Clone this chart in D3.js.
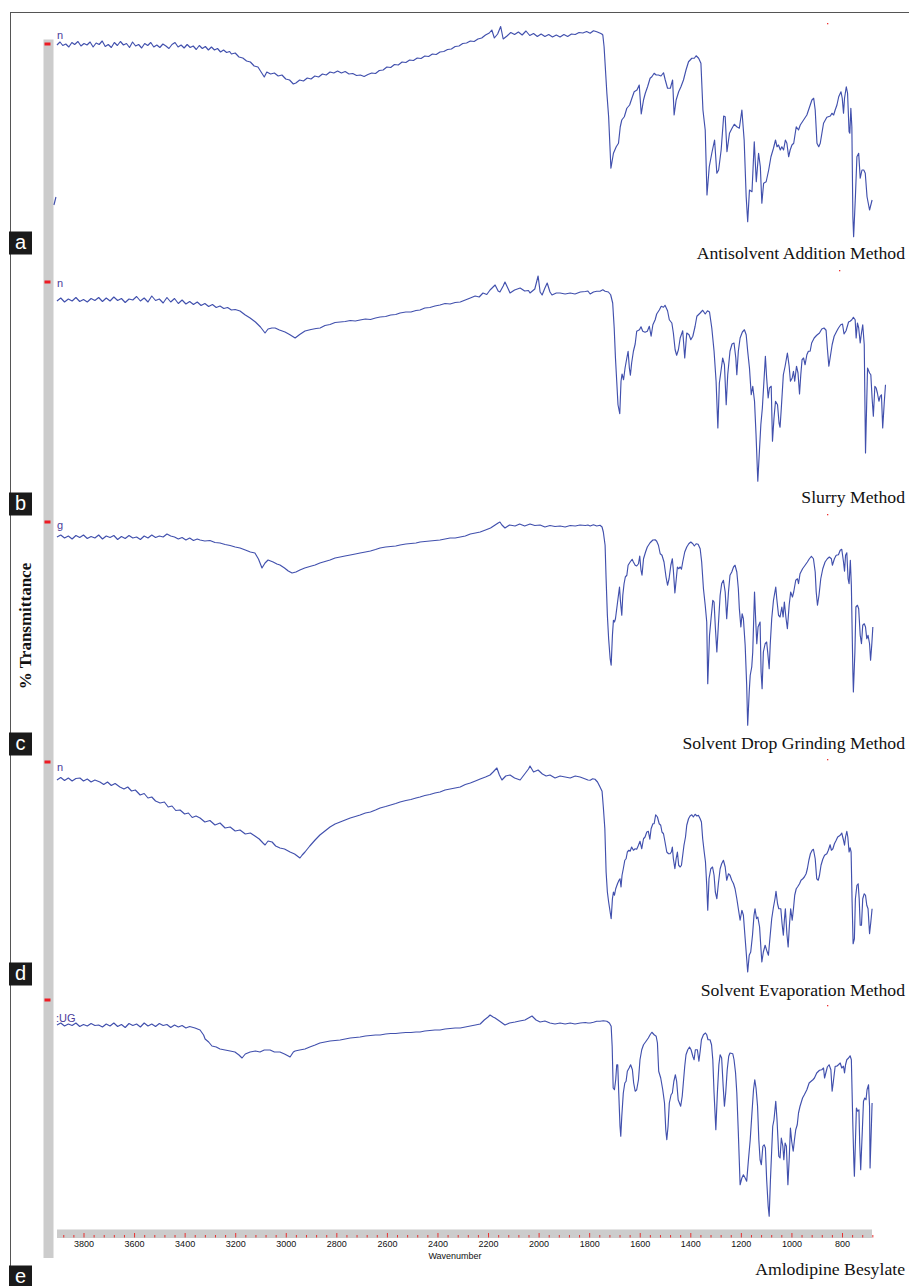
<!DOCTYPE html>
<html>
<head>
<meta charset="utf-8">
<script src="https://cdn.jsdelivr.net/npm/d3@7"></script>
<style>
  html, body { margin: 0; padding: 0; background: #ffffff; }
  svg { display: block; }
</style>
</head>
<body>
<svg id="chart" width="909" height="1286"></svg>
<script>
// FTIR spectra: [wavenumber (cm-1), % transmittance]

const spectrumAntisolvent = [
  [3905,91.6],[3893,92.8],[3882,91.4],[3870,92.0],[3858,90.8],[3846,92.6],[3835,91.8],[3822,93.0],[3810,91.2],[3798,92.2],
  [3786,91.6],[3774,92.8],[3762,90.8],[3750,92.4],[3738,91.8],[3726,93.2],[3714,91.0],[3702,91.8],[3690,90.6],[3678,92.6],
  [3666,91.4],[3654,93.0],[3642,91.6],[3630,92.2],[3618,90.6],[3606,92.8],[3594,91.2],[3582,91.8],[3570,90.4],[3558,92.2],
  [3546,91.4],[3534,92.6],[3522,90.8],[3510,91.6],[3498,90.6],[3486,92.0],[3474,91.2],[3462,90.2],[3450,91.8],[3438,92.6],
  [3426,90.8],[3414,91.6],[3402,90.4],[3390,91.8],[3378,90.6],[3366,91.2],[3354,89.8],[3342,91.4],[3330,90.2],[3318,91.0],
  [3306,89.6],[3294,90.8],[3282,89.6],[3270,90.2],[3258,88.8],[3246,89.6],[3234,88.6],[3222,89.0],
  [3215,88.0],[3200,88.4],[3185,86.8],[3170,86.4],
  [3155,85.2],[3140,84.8],[3125,83.2],[3110,82.8],[3095,80.4],[3085,78.8],[3075,80.8],[3060,80.0],[3045,80.4],[3030,79.2],
  [3015,79.6],[3000,78.0],[2985,77.6],[2970,76.0],[2960,76.4],[2945,77.6],[2930,77.2],[2915,78.4],[2900,78.0],[2885,79.2],
  [2870,78.8],[2855,80.0],[2840,79.6],[2825,80.8],[2810,80.4],[2795,81.2],[2780,80.4],[2765,81.0],[2750,80.0],[2735,80.2],
  [2720,79.4],[2705,79.6],[2690,79.0],[2675,79.8],[2660,80.4],[2645,80.2],[2630,81.4],[2615,81.6],[2600,82.8],[2585,82.6],
  [2570,83.8],[2555,83.6],[2540,84.8],[2525,84.6],[2510,85.6],[2495,85.4],[2480,86.4],[2465,86.2],[2450,87.2],[2435,87.0],
  [2420,88.0],[2405,87.8],[2390,88.8],[2375,89.0],[2360,89.8],[2345,90.0],[2330,91.0],[2315,91.2],[2300,92.2],[2285,92.4],
  [2270,93.2],[2255,93.0],[2240,94.0],[2225,94.4],[2210,95.6],[2195,96.4],[2185,97.6],[2175,94.4],[2162,96.0],[2150,99.0],
  [2140,94.0],[2125,95.2],[2110,96.6],[2095,95.8],[2080,96.8],[2065,95.6],[2050,97.2],[2035,95.4],[2020,96.2],[2005,95.0],
  [1990,96.0],[1975,95.0],[1960,95.8],[1945,94.8],[1930,95.6],[1915,94.8],[1900,95.8],[1885,95.0],[1870,96.0],[1855,95.8],
  [1840,96.6],[1825,96.4],[1810,97.0],
  [1796,96.3],[1783,97.3],[1770,96.9],[1756,96.3],[1750,96.0],[1746,95.6],[1741,90.9],[1730,72.3],[1723,62.9],[1714,42.3],
  [1704,48.3],[1693,50.9],[1684,52.3],[1677,58.9],[1671,61.6],[1661,62.9],[1651,66.3],[1640,67.6],[1631,70.3],[1622,72.9],
  [1611,73.6],[1602,75.6],[1594,64.0],[1585,69.6],[1578,72.3],[1569,74.9],[1559,78.3],[1552,78.9],[1543,80.3],[1535,79.6],
  [1526,79.6],[1516,79.2],[1506,80.5],[1499,77.6],[1490,74.3],[1479,74.3],[1470,77.6],[1464,63.6],[1456,69.6],[1446,72.9],
  [1437,74.9],[1427,77.6],[1417,81.6],[1407,84.9],[1394,86.3],[1384,86.3],[1377,87.3],[1367,86.3],[1358,84.3],[1350,65.6],
  [1341,57.6],[1334,31.6],[1325,42.9],[1315,48.3],[1304,53.6],[1295,40.3],[1288,41.6],[1278,49.6],[1268,63.2],[1262,62.9],
  [1255,48.9],[1245,56.3],[1235,58.3],[1226,59.9],[1216,58.9],[1206,58.3],[1196,65.6],[1187,53.6],[1179,30.9],[1173,20.9],
  [1166,33.6],[1156,32.9],[1147,52.9],[1139,36.9],[1130,48.3],[1123,42.9],[1117,28.3],[1110,36.3],[1100,36.9],[1090,41.6],
  [1081,46.9],[1071,50.3],[1063,53.6],[1057,50.9],[1051,51.6],[1044,49.6],[1038,50.9],[1031,49.6],[1024,53.6],[1018,52.3],
  [1011,46.9],[1005,49.6],[998,51.6],[991,52.3],[981,58.9],[972,57.6],[965,59.6],[952,61.6],[939,63.6],[928,66.9],
  [919,69.6],[912,70.3],[906,65.6],[899,52.3],[892,50.9],[886,52.3],[873,60.3],[860,62.7],[846,63.2],[840,64.3],
  [833,63.6],[827,65.6],[820,67.6],[813,70.9],[804,72.9],[799,70.3],[794,64.3],[790,70.3],[783,74.9],[778,72.3],
  [772,56.9],[769,56.3],[765,66.3],[761,58.9],[757,22.9],[754,14.9],[747,30.9],[741,46.9],[734,48.3],[728,38.3],
  [721,41.6],[714,41.6],[708,40.3],[701,30.9],[691,25.6],[681,29.6]
];

// short stray trace fragment at the low edge of the first spectrum
const fragmentAntisolvent = [[3917,27.6],[3909,30.8]];

const spectrumSlurry = [
  [3905,84.4],[3890,85.6],[3875,84.0],[3860,85.2],[3845,84.4],[3830,85.8],[3815,84.2],[3800,85.0],[3785,84.0],[3770,85.4],
  [3755,84.6],[3740,85.8],[3725,84.2],[3710,85.6],[3695,84.4],[3680,86.0],[3665,84.6],[3650,85.4],[3635,83.8],[3620,85.2],
  [3605,84.8],[3590,86.2],[3575,84.4],[3560,85.6],[3545,84.0],[3530,86.4],[3515,84.6],[3500,85.2],[3485,83.6],[3470,85.8],
  [3455,84.0],[3440,85.4],[3425,83.4],[3410,84.8],[3395,83.2],[3380,84.2],[3365,83.0],[3350,84.0],[3335,82.6],[3320,83.4],
  [3305,82.2],[3290,83.0],[3275,81.8],[3260,82.4],[3245,81.4],[3230,81.8],[3215,80.8],[3200,81.0],[3181,80.4],[3160,78.8],
  [3141,77.6],[3120,76.0],[3100,74.0],[3082,71.6],[3070,73.2],[3055,73.6],[3042,73.6],[3025,72.8],[3003,72.0],[2985,71.0],
  [2963,69.6],[2945,71.0],[2924,72.4],[2900,73.0],[2880,73.4],[2864,73.6],[2845,74.6],[2825,75.0],[2805,75.8],[2785,76.0],
  [2765,76.2],[2745,76.6],[2725,76.4],[2706,76.8],[2685,77.2],[2665,77.0],[2645,77.6],[2627,78.0],[2605,78.2],[2585,78.8],
  [2565,79.0],[2548,79.6],[2525,80.0],[2505,80.0],[2485,80.6],[2469,80.8],[2450,81.6],[2430,81.8],[2410,82.4],[2390,82.8],
  [2370,83.4],[2350,83.2],[2330,83.8],[2310,84.0],[2290,84.8],[2270,85.6],[2251,86.4],[2235,86.0],[2220,87.6],[2205,87.0],
  [2192,88.8],[2172,90.8],[2160,88.4],[2153,88.0],[2140,90.4],[2133,92.0],[2120,89.2],[2113,87.6],[2095,88.8],[2073,89.6],
  [2055,88.4],[2040,88.6],[2034,87.6],[2015,89.2],[2002,94.4],[1994,88.0],[1986,86.8],[1975,89.6],[1966,91.6],[1955,88.0],
  [1947,86.8],[1930,87.6],[1915,87.6],[1895,87.2],[1875,87.6],[1856,87.2],[1835,88.0],[1815,88.2],[1805,88.4],
  [1796,87.2],[1783,88.0],[1770,88.3],[1757,88.3],[1746,88.9],[1737,88.3],[1724,88.0],[1715,86.9],[1707,83.6],[1701,73.6],
  [1696,61.6],[1691,52.3],[1686,42.9],[1679,39.3],[1674,52.3],[1670,55.2],[1664,52.9],[1658,57.6],[1651,61.6],[1646,64.3],
  [1641,57.6],[1637,54.7],[1632,59.6],[1625,64.3],[1618,67.2],[1612,72.3],[1601,72.9],[1595,74.1],[1588,72.3],[1579,71.9],
  [1570,72.3],[1562,74.3],[1555,70.3],[1548,74.9],[1539,76.9],[1533,79.2],[1522,80.9],[1515,82.3],[1506,81.9],[1500,82.7],
  [1490,80.5],[1483,76.9],[1473,75.6],[1467,71.6],[1460,64.9],[1454,62.7],[1447,64.9],[1440,69.6],[1430,72.5],[1422,61.6],
  [1414,71.6],[1405,70.9],[1398,68.9],[1390,70.3],[1381,74.3],[1374,78.3],[1361,79.6],[1351,80.7],[1341,79.2],[1332,80.5],
  [1324,80.0],[1315,73.6],[1306,64.3],[1298,52.3],[1291,33.6],[1285,51.6],[1278,56.9],[1272,61.6],[1265,58.9],[1258,42.9],
  [1252,54.9],[1243,64.3],[1235,67.2],[1227,67.6],[1220,61.6],[1216,54.9],[1210,64.3],[1203,69.6],[1194,72.0],[1186,72.9],
  [1179,70.9],[1173,64.3],[1166,57.6],[1159,46.9],[1153,50.3],[1146,44.3],[1140,30.9],[1133,12.3],[1126,25.6],[1121,34.9],
  [1115,41.6],[1108,53.6],[1103,62.3],[1098,53.6],[1092,45.6],[1087,49.6],[1080,50.3],[1075,28.3],[1069,37.6],[1063,44.3],
  [1055,42.9],[1049,35.6],[1045,33.9],[1040,41.6],[1032,54.9],[1025,58.3],[1016,63.6],[1009,58.3],[1004,52.3],[997,53.6],
  [992,56.3],[987,52.3],[980,58.3],[974,55.6],[968,47.2],[963,54.9],[958,60.9],[952,61.6],[946,58.9],[939,62.9],
  [933,64.3],[926,64.3],[920,67.6],[910,69.6],[900,70.7],[889,71.6],[880,73.2],[871,73.6],[863,72.7],[858,65.6],
  [852,58.3],[847,61.6],[839,66.9],[831,70.3],[821,72.3],[814,73.6],[805,74.9],[798,75.2],[792,71.2],[784,72.5],
  [774,76.0],[768,76.3],[761,76.9],[755,77.9],[748,76.9],[744,69.6],[739,75.6],[734,73.6],[728,67.6],[723,71.6],
  [718,74.9],[712,66.9],[707,23.6],[699,57.6],[691,55.6],[686,54.9],[681,45.6],[676,38.3],[670,50.3],[665,49.6],
  [660,47.6],[654,44.3],[649,46.3],[644,46.9],[639,33.6],[633,43.6],[628,50.9]
];

const spectrumGrinding = [
  [3905,86.0],[3890,86.8],[3875,85.6],[3860,86.4],[3845,85.2],[3830,86.6],[3815,85.8],[3800,86.8],[3785,85.4],[3770,86.2],
  [3755,85.6],[3740,86.8],[3725,85.2],[3710,86.4],[3695,85.8],[3680,86.6],[3665,85.0],[3650,86.2],[3635,85.4],[3620,86.6],
  [3605,85.6],[3590,86.0],[3575,85.0],[3560,86.4],[3545,85.6],[3530,86.8],[3515,85.8],[3500,86.4],[3485,86.0],[3470,87.2],
  [3455,86.4],[3440,86.0],[3425,85.2],[3410,85.8],[3395,84.8],[3380,85.6],[3365,84.6],[3350,85.2],[3339,84.8],[3320,84.4],
  [3300,84.6],[3280,83.8],[3260,83.6],[3240,83.0],[3220,82.6],[3200,82.0],[3181,81.6],[3160,80.8],[3140,80.0],[3122,79.6],
  [3108,77.2],[3094,73.6],[3082,75.6],[3070,76.8],[3050,76.0],[3035,75.2],[3023,74.8],[3005,73.6],[2990,72.4],[2975,71.6],
  [2960,72.0],[2944,72.8],[2925,73.6],[2905,74.2],[2884,74.8],[2865,75.6],[2845,76.2],[2825,76.8],[2805,77.6],[2785,78.0],
  [2766,78.4],[2745,78.8],[2725,79.2],[2706,79.6],[2685,80.0],[2665,80.4],[2645,81.0],[2627,81.6],[2605,82.0],[2585,82.2],
  [2565,82.4],[2548,82.8],[2525,83.2],[2505,83.4],[2485,83.6],[2469,84.0],[2450,84.2],[2430,84.4],[2410,84.6],[2390,84.8],
  [2370,85.2],[2350,85.6],[2330,85.6],[2310,86.0],[2290,86.4],[2270,87.2],[2250,87.6],[2231,88.0],[2210,88.8],[2190,89.6],
  [2172,90.8],[2160,91.6],[2153,92.0],[2145,90.8],[2133,89.6],[2115,90.8],[2093,90.4],[2075,91.2],[2055,90.4],[2034,91.2],
  [2015,90.6],[1994,90.8],[1975,90.0],[1955,90.6],[1935,90.2],[1915,90.4],[1895,90.0],[1875,90.6],[1855,90.4],[1836,90.8],
  [1815,90.6],[1805,90.8],
  [1796,90.4],[1783,90.9],[1770,90.4],[1757,90.7],[1749,90.0],[1744,88.0],[1737,82.7],[1733,69.3],[1728,54.7],[1723,45.3],
  [1717,37.3],[1713,34.7],[1708,46.7],[1704,52.7],[1700,52.0],[1696,53.3],[1691,57.3],[1686,61.3],[1680,66.0],[1676,60.0],
  [1671,54.7],[1667,62.7],[1662,67.3],[1657,70.0],[1651,70.7],[1646,74.7],[1638,76.0],[1630,77.1],[1625,76.0],[1618,74.7],
  [1612,74.4],[1605,75.3],[1600,78.4],[1595,72.7],[1591,70.7],[1585,77.3],[1577,80.0],[1570,82.0],[1559,83.7],[1548,84.8],
  [1539,84.9],[1533,84.3],[1526,82.7],[1519,79.3],[1512,78.7],[1504,76.0],[1496,70.0],[1490,66.7],[1484,69.3],[1477,74.7],
  [1471,77.3],[1467,72.7],[1461,63.6],[1456,68.7],[1451,74.0],[1446,73.3],[1440,74.0],[1435,73.1],[1430,76.0],[1422,80.0],
  [1414,82.0],[1406,83.3],[1398,84.0],[1390,83.3],[1384,82.4],[1377,83.3],[1369,83.1],[1361,81.3],[1355,76.0],[1348,65.3],
  [1341,58.7],[1335,52.0],[1331,27.3],[1324,46.7],[1318,53.3],[1311,60.7],[1306,60.0],[1301,50.0],[1295,40.0],[1289,50.7],
  [1282,62.7],[1276,67.3],[1269,68.7],[1262,64.0],[1256,53.3],[1249,64.0],[1243,70.7],[1236,72.0],[1229,74.0],[1223,74.7],
  [1216,72.0],[1210,65.3],[1206,57.3],[1200,50.0],[1195,55.3],[1190,53.3],[1183,42.7],[1177,26.7],[1173,10.7],[1167,24.0],
  [1163,30.7],[1157,34.0],[1153,40.0],[1146,64.0],[1141,52.0],[1137,43.3],[1132,50.0],[1124,52.0],[1120,32.0],[1116,25.3],
  [1111,40.0],[1104,43.3],[1098,44.0],[1094,40.0],[1088,33.3],[1084,42.7],[1078,53.3],[1071,60.7],[1062,66.0],[1058,61.3],
  [1051,54.7],[1045,54.0],[1038,58.0],[1033,54.0],[1028,60.0],[1022,54.0],[1016,49.3],[1009,58.7],[1003,64.0],[996,62.0],
  [991,64.0],[983,68.7],[976,69.3],[972,67.3],[966,71.3],[956,73.3],[946,74.7],[937,76.0],[929,77.3],[921,78.3],
  [913,77.3],[906,72.0],[902,64.0],[897,58.7],[891,62.7],[884,69.3],[876,73.3],[867,76.0],[858,77.3],[850,78.0],
  [842,77.3],[838,74.7],[830,77.3],[823,78.7],[814,78.9],[807,80.7],[801,81.1],[794,76.0],[790,72.3],[786,78.7],
  [781,79.7],[776,69.3],[772,67.3],[767,76.7],[763,66.7],[757,32.0],[755,24.0],[749,40.0],[745,58.0],[739,58.7],
  [734,57.3],[728,46.7],[723,43.3],[718,50.7],[712,51.3],[707,50.0],[702,45.3],[697,46.7],[691,43.3],[687,36.7],
  [682,43.3],[678,50.0]
];

const spectrumEvaporation = [
  [3905,84.8],[3890,85.8],[3875,84.6],[3860,85.6],[3845,84.4],[3830,85.4],[3814,85.6],[3800,84.4],[3785,85.2],[3770,84.0],
  [3755,84.8],[3735,84.0],[3720,83.0],[3705,84.0],[3690,82.6],[3675,83.4],[3656,82.0],[3640,81.2],[3625,82.0],[3610,80.4],
  [3595,80.8],[3576,78.8],[3560,79.4],[3545,77.6],[3530,78.0],[3515,76.4],[3497,75.6],[3480,76.0],[3465,74.0],[3450,74.4],
  [3435,72.6],[3418,72.8],[3400,71.2],[3385,71.6],[3370,69.8],[3355,70.4],[3339,69.6],[3320,68.0],[3300,68.6],[3280,66.8],
  [3260,67.6],[3240,65.6],[3220,66.0],[3200,64.4],[3181,64.8],[3160,63.2],[3140,63.6],[3122,62.4],[3105,61.2],[3090,59.6],
  [3082,58.8],[3070,60.4],[3054,60.0],[3040,58.4],[3023,57.6],[3005,57.2],[2983,56.0],[2965,55.2],[2944,53.6],[2935,54.8],
  [2924,56.0],[2905,58.4],[2884,60.8],[2865,62.8],[2845,64.4],[2825,66.0],[2805,67.2],[2785,68.0],[2765,68.8],[2745,69.6],
  [2725,70.2],[2706,70.8],[2685,71.6],[2665,72.0],[2645,72.8],[2627,73.6],[2605,74.2],[2585,74.8],[2565,75.4],[2548,76.0],
  [2525,76.6],[2505,77.0],[2485,77.6],[2469,78.0],[2450,78.6],[2430,79.0],[2410,79.6],[2390,80.0],[2370,80.8],[2350,81.2],
  [2330,81.6],[2310,82.0],[2290,83.0],[2270,83.6],[2250,84.4],[2231,85.2],[2210,86.0],[2192,86.8],[2180,88.0],[2165,89.6],
  [2155,86.8],[2145,84.8],[2130,86.4],[2113,86.8],[2095,85.6],[2073,84.8],[2055,87.2],[2040,89.2],[2034,90.4],[2020,88.0],
  [2002,88.8],[1985,87.2],[1970,86.4],[1955,86.8],[1935,85.6],[1915,86.4],[1895,86.0],[1875,85.6],[1855,86.4],[1836,86.0],
  [1815,85.2],[1805,84.8],
  [1796,84.7],[1786,85.3],[1777,85.1],[1767,84.0],[1757,82.0],[1749,80.3],[1744,74.0],[1738,65.3],[1733,48.0],[1728,40.0],
  [1723,36.0],[1717,32.0],[1713,29.3],[1708,37.3],[1704,40.0],[1700,38.7],[1695,41.3],[1688,43.3],[1682,44.7],[1678,45.3],
  [1674,42.0],[1670,46.7],[1665,49.3],[1659,52.7],[1654,53.3],[1649,56.0],[1643,56.7],[1638,56.3],[1632,58.0],[1625,56.7],
  [1618,57.3],[1612,57.1],[1605,58.7],[1599,60.3],[1592,57.3],[1585,61.3],[1579,62.0],[1572,64.0],[1566,64.3],[1560,61.1],
  [1555,65.3],[1548,67.3],[1543,67.3],[1537,70.9],[1530,70.0],[1523,67.3],[1517,66.7],[1512,64.0],[1506,63.3],[1500,60.0],
  [1493,56.0],[1486,55.3],[1480,55.3],[1475,56.0],[1471,58.0],[1467,53.3],[1461,49.3],[1456,53.3],[1451,56.0],[1446,50.7],
  [1440,50.0],[1435,50.7],[1430,54.7],[1425,58.7],[1419,62.0],[1414,66.7],[1407,69.3],[1401,70.4],[1394,70.9],[1388,70.0],
  [1381,71.1],[1374,70.4],[1368,70.7],[1361,69.3],[1356,68.0],[1351,61.3],[1345,56.0],[1340,52.0],[1335,42.7],[1331,32.7],
  [1326,45.3],[1319,49.3],[1312,50.0],[1306,46.7],[1301,40.0],[1295,37.3],[1289,43.3],[1282,49.3],[1276,51.3],[1269,52.7],
  [1262,50.0],[1256,44.7],[1249,47.3],[1243,46.7],[1236,44.7],[1229,43.3],[1223,41.3],[1216,37.3],[1210,33.3],[1203,28.7],
  [1196,32.7],[1190,30.7],[1183,21.3],[1177,13.3],[1173,8.0],[1167,14.7],[1161,16.0],[1154,22.7],[1148,30.7],[1144,33.3],
  [1138,29.3],[1133,30.0],[1126,26.0],[1121,18.0],[1117,12.0],[1111,16.0],[1104,18.7],[1098,16.7],[1091,14.7],[1084,22.7],
  [1078,29.3],[1071,34.0],[1065,37.3],[1061,40.3],[1055,35.3],[1050,33.3],[1042,33.3],[1037,27.3],[1032,22.7],[1028,28.7],
  [1024,33.3],[1018,23.3],[1013,18.0],[1008,26.7],[1003,33.3],[997,28.7],[992,33.3],[987,38.7],[981,41.3],[976,42.0],
  [968,43.3],[962,44.7],[955,45.3],[949,46.0],[942,47.3],[937,49.3],[931,52.7],[925,55.3],[918,56.7],[913,57.1],
  [906,53.3],[900,45.3],[894,44.7],[889,46.7],[883,50.7],[876,53.1],[869,54.7],[860,55.3],[854,56.7],[847,58.9],
  [842,56.7],[836,57.3],[830,59.3],[823,60.7],[817,62.0],[807,62.7],[801,63.6],[794,60.7],[790,58.7],[786,62.0],
  [781,64.3],[777,62.0],[772,56.0],[768,57.7],[764,56.0],[760,36.0],[756,19.3],[751,21.3],[747,37.3],[741,42.7],
  [736,43.3],[732,37.3],[728,26.7],[723,26.7],[718,37.3],[712,39.3],[707,38.7],[702,34.7],[697,33.3],[691,23.3],
  [686,28.0],[681,33.3]
];

const spectrumDrug = [
  [3905,82.0],[3890,82.8],[3875,81.6],[3860,82.4],[3845,81.8],[3830,82.8],[3815,81.4],[3800,82.2],[3785,81.6],[3770,82.6],
  [3755,81.8],[3740,82.0],[3725,81.2],[3710,82.4],[3695,81.6],[3680,82.8],[3665,81.4],[3650,82.2],[3635,81.0],[3620,82.6],
  [3605,81.8],[3590,82.4],[3575,81.2],[3560,82.8],[3545,81.6],[3530,82.4],[3515,81.4],[3500,82.6],[3485,81.8],[3470,82.2],
  [3455,81.0],[3440,82.0],[3425,81.2],[3410,81.8],[3395,80.8],[3380,81.4],[3359,80.8],[3339,80.0],[3325,78.0],[3319,76.4],
  [3305,75.2],[3292,73.6],[3275,73.2],[3260,72.4],[3240,72.0],[3220,71.6],[3201,71.2],[3185,70.0],[3173,68.8],[3160,70.4],
  [3141,71.2],[3120,71.6],[3102,71.2],[3085,72.0],[3062,72.0],[3045,71.2],[3023,71.2],[3005,70.4],[2990,69.6],[2983,69.2],
  [2970,71.2],[2963,71.6],[2945,72.0],[2924,72.4],[2905,73.2],[2884,74.0],[2865,74.8],[2845,75.2],[2825,75.6],[2805,75.8],
  [2785,76.0],[2765,76.4],[2745,76.8],[2725,77.0],[2706,77.2],[2685,77.6],[2665,77.8],[2645,78.0],[2627,78.0],[2605,78.4],
  [2585,78.6],[2565,78.6],[2548,78.8],[2525,79.0],[2505,79.0],[2485,79.2],[2469,79.2],[2450,79.6],[2430,79.8],[2410,80.0],
  [2390,80.0],[2370,80.4],[2350,80.6],[2330,80.8],[2310,80.8],[2290,81.2],[2270,81.6],[2250,82.0],[2231,82.4],[2215,84.0],
  [2200,85.2],[2192,86.0],[2180,85.2],[2172,84.8],[2155,83.6],[2133,82.0],[2115,82.8],[2093,83.2],[2075,83.6],[2054,84.0],
  [2040,84.8],[2026,85.6],[2010,84.0],[1994,83.2],[1975,83.6],[1955,82.8],[1935,82.4],[1915,82.8],[1895,82.4],[1875,82.8],
  [1856,82.4],[1835,82.8],[1815,83.0],[1805,82.8],
  [1796,82.8],[1783,83.1],[1770,83.5],[1757,83.5],[1744,83.7],[1730,83.5],[1720,82.8],[1713,81.5],[1709,73.5],[1705,56.8],
  [1700,56.1],[1695,60.1],[1691,66.1],[1687,66.1],[1683,54.8],[1678,41.5],[1675,37.5],[1671,45.5],[1665,54.8],[1659,58.8],
  [1654,59.5],[1649,63.5],[1642,64.8],[1636,66.1],[1629,64.1],[1624,58.8],[1618,55.5],[1612,56.1],[1605,60.1],[1599,68.1],
  [1592,72.1],[1585,74.1],[1575,75.5],[1566,76.8],[1559,78.1],[1552,79.1],[1543,78.1],[1535,77.5],[1530,74.8],[1525,63.5],
  [1517,60.8],[1509,56.1],[1502,50.8],[1497,40.1],[1493,36.1],[1488,41.5],[1483,50.8],[1476,54.1],[1471,54.8],[1465,59.5],
  [1459,62.1],[1454,59.5],[1448,52.1],[1443,50.8],[1438,49.5],[1432,53.5],[1427,59.5],[1422,65.5],[1417,70.1],[1410,72.1],
  [1403,73.2],[1397,72.1],[1390,69.5],[1385,68.1],[1380,72.1],[1372,72.1],[1366,67.5],[1361,71.5],[1356,76.1],[1348,78.1],
  [1340,78.8],[1335,78.1],[1330,76.1],[1322,76.1],[1316,74.1],[1311,68.1],[1306,54.8],[1299,40.1],[1293,54.8],[1287,66.1],
  [1282,70.1],[1276,68.8],[1270,57.5],[1265,49.5],[1260,54.8],[1254,64.1],[1248,69.5],[1243,70.8],[1232,70.5],[1227,68.1],
  [1221,62.8],[1216,54.8],[1210,38.8],[1203,18.1],[1196,20.8],[1190,22.1],[1183,20.8],[1177,19.5],[1170,28.1],[1163,36.1],
  [1157,45.5],[1150,56.1],[1145,60.1],[1140,56.8],[1134,49.5],[1129,36.1],[1124,28.1],[1119,26.1],[1113,33.5],[1108,34.1],
  [1103,32.8],[1098,20.1],[1092,9.5],[1088,5.5],[1083,20.1],[1078,32.1],[1074,41.5],[1069,44.1],[1062,51.5],[1057,44.1],
  [1050,29.5],[1045,28.8],[1040,36.8],[1034,33.5],[1030,28.1],[1025,34.8],[1020,33.5],[1014,18.1],[1009,28.1],[1004,40.8],
  [999,35.5],[993,31.5],[988,36.1],[983,40.1],[977,42.1],[972,46.8],[966,49.5],[956,52.8],[949,54.1],[939,56.1],
  [930,58.8],[922,59.5],[915,60.1],[909,60.8],[900,62.8],[889,63.9],[880,64.1],[873,64.8],[869,60.8],[864,62.8],
  [858,65.2],[851,66.1],[844,64.1],[839,55.5],[834,59.5],[827,65.5],[821,65.5],[814,66.1],[807,66.8],[801,64.8],
  [794,65.5],[790,62.8],[786,66.1],[781,68.1],[774,68.8],[768,69.7],[763,68.1],[757,41.5],[753,26.8],[751,21.5],
  [747,34.8],[743,48.8],[738,47.5],[733,48.1],[730,34.8],[726,24.1],[720,38.8],[715,51.5],[710,52.8],[705,52.1],
  [701,56.1],[695,58.1],[691,49.5],[689,24.8],[685,37.5],[681,50.8]
];

const spectra = [spectrumAntisolvent, spectrumSlurry, spectrumGrinding, spectrumEvaporation, spectrumDrug];
const captions = ["Antisolvent Addition Method", "Slurry Method", "Solvent Drop Grinding Method",
                  "Solvent Evaporation Method", "Amlodipine Besylate"];
const panelLetters = ["a", "b", "c", "d", "e"];
const sampleTags = ["n", "n", "g", "n", ":UG"];
const majorTicks = [3800, 3600, 3400, 3200, 3000, 2800, 2600, 2400, 2200, 2000, 1800, 1600, 1400, 1200, 1000, 800];
const minorTicks = d3.range(3880, 679, -40).filter(v => v % 200 !== 0);

// ---- layout ----
const W = 909, H = 1286;
const panelTop = [44, 282, 522, 762, 1000];      // red marker row of each panel
const captionBase = [259, 503, 749, 996, 1275];
const letterCenter = [243, 504, 744, 974, 1277];
const tagPos = [[57, 39], [57, 287], [57, 529], [57, 771], [56, 1022]];
const dotPos = [[827, 23], [839, 270], [827, 514], [827, 759], [827, 1005]];

const svg = d3.select("#chart");
const lineColor = "#4150ad";

const x = d3.scaleLinear().domain([3800, 800]).range([83.5, 842]);
const yScales = panelTop.map(t => d3.scaleLinear().domain([0, 100]).range([t + 230, t - 20]));

// outer frame (top and left edges)
svg.append("line").attr("x1", 10).attr("y1", 12.5).attr("x2", W).attr("y2", 12.5)
  .attr("stroke", "#555").attr("stroke-width", 1);
svg.append("line").attr("x1", 10.5).attr("y1", 12).attr("x2", 10.5).attr("y2", H)
  .attr("stroke", "#555").attr("stroke-width", 1);

// vertical grey ordinate bar
svg.append("rect").attr("x", 43.5).attr("y", 39.5).attr("width", 10).attr("height", 1218.5)
  .attr("fill", "#cccccc");

// red panel markers on the ordinate bar
svg.selectAll("rect.marker").data(panelTop).join("rect").attr("class", "marker")
  .attr("x", 44.5).attr("y", d => d - 1.5).attr("width", 6).attr("height", 3).attr("fill", "#ee1c24");

// tiny red dots at upper right of each panel
svg.selectAll("rect.dot").data(dotPos).join("rect").attr("class", "dot")
  .attr("x", d => d[0]).attr("y", d => d[1]).attr("width", 1.3).attr("height", 1.3).attr("fill", "#f03030");

// y axis title
svg.append("text")
  .attr("transform", "translate(31,626) rotate(-90)")
  .attr("text-anchor", "middle")
  .attr("font-family", "'Liberation Serif', 'Times New Roman', serif")
  .attr("font-weight", "bold").attr("font-size", 17).attr("fill", "#111")
  .text("% Transmittance");

// spectra
const line = d3.line().x(d => x(d[0]));
spectra.forEach((data, i) => {
  const y = yScales[i];
  svg.append("path").datum(data)
    .attr("fill", "none").attr("stroke", lineColor).attr("stroke-width", 1.15)
    .attr("stroke-linejoin", "round")
    .attr("d", line.y(d => y(d[1])));
});
svg.append("path").datum(fragmentAntisolvent)
  .attr("fill", "none").attr("stroke", lineColor).attr("stroke-width", 1.15)
  .attr("d", line.y(d => yScales[0](d[1])));

// sample tags (truncated instrument labels)
svg.selectAll("text.tag").data(sampleTags).join("text").attr("class", "tag")
  .attr("x", (d, i) => tagPos[i][0]).attr("y", (d, i) => tagPos[i][1])
  .attr("font-family", "'Liberation Sans', Arial, sans-serif").attr("font-size", 11)
  .attr("fill", "#4a3c9a").text(d => d);

// captions
svg.selectAll("text.caption").data(captions).join("text").attr("class", "caption")
  .attr("x", 905).attr("y", (d, i) => captionBase[i]).attr("text-anchor", "end")
  .attr("font-family", "'Liberation Serif', 'Times New Roman', serif").attr("font-size", 17.7)
  .attr("fill", "#111").text(d => d);

// panel letter boxes
const letters = svg.selectAll("g.letter").data(panelLetters).join("g").attr("class", "letter")
  .attr("transform", (d, i) => `translate(9,${letterCenter[i] - 11.5})`);
letters.append("rect").attr("width", 23).attr("height", 23).attr("fill", "#1a1a1a");
letters.append("text").attr("x", 11.5).attr("y", 17.5).attr("text-anchor", "middle")
  .attr("font-family", "'Liberation Sans', Arial, sans-serif").attr("font-size", 20)
  .attr("fill", "#ffffff").text(d => d);

// wavenumber axis
const axisY = 1237.5;
svg.append("rect").attr("x", 57).attr("y", 1229.5).attr("width", 815).attr("height", 8.5).attr("fill", "#cccccc");

const minorAxis = svg.append("g").attr("transform", `translate(0,${axisY})`)
  .call(d3.axisBottom(x).tickValues(minorTicks).tickSize(-2.5).tickFormat(""));
minorAxis.select(".domain").remove();
minorAxis.selectAll(".tick line").attr("stroke", "#e83030");

const majorAxis = svg.append("g").attr("transform", `translate(0,${axisY})`)
  .call(d3.axisBottom(x).tickValues(majorTicks).tickSize(-4.5).tickPadding(3.5).tickFormat(d3.format("d")));
majorAxis.select(".domain").remove();
majorAxis.selectAll(".tick line").attr("stroke", "#e83030");
majorAxis.selectAll(".tick text")
  .attr("font-family", "'Liberation Sans', Arial, sans-serif").attr("font-size", 9).attr("fill", "#111");

svg.append("text").attr("x", 455).attr("y", 1259).attr("text-anchor", "middle")
  .attr("font-family", "'Liberation Sans', Arial, sans-serif").attr("font-size", 9).attr("fill", "#111")
  .text("Wavenumber");
</script>
</body>
</html>
